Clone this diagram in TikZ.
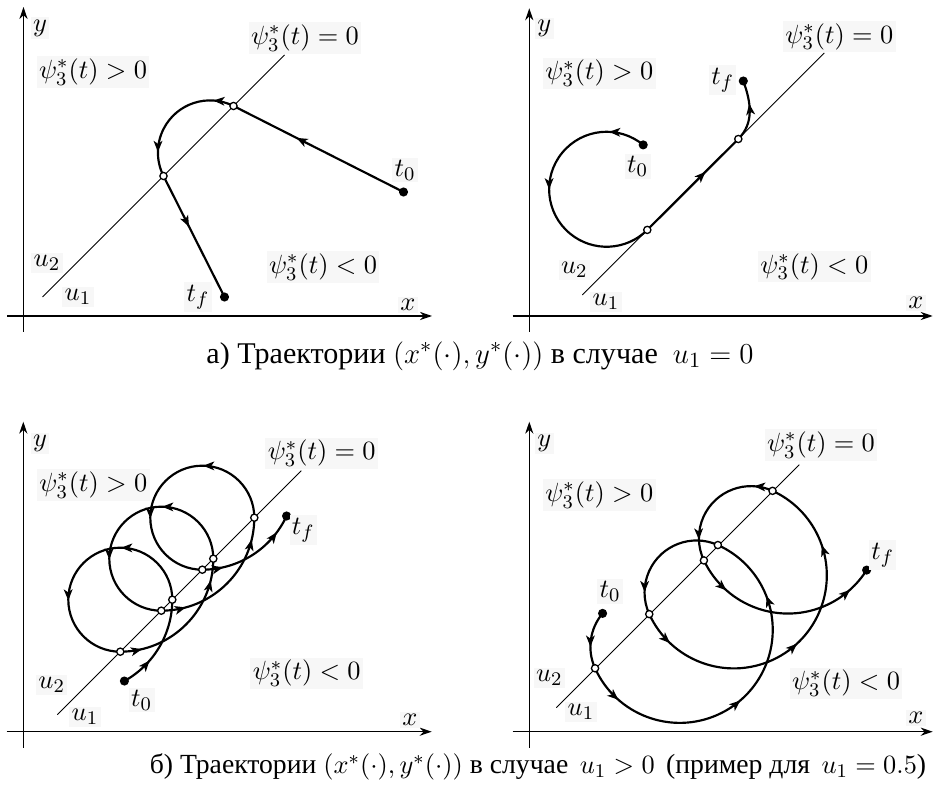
\documentclass[tikz,border=0pt]{standalone}
\usepackage{fontspec}
\newfontfamily\capfont{Liberation Serif}
\usepackage{tikz}
\usetikzlibrary{arrows.meta, decorations.markings}
\tikzset{
  axisarr/.style={line width=0.5pt, -{Stealth[length=5pt, width=3.4pt]}},
  swline/.style={line width=0.35pt},
  traj/.style={line width=0.9pt},
  arrat/.style={postaction={decorate, decoration={markings,
      mark=at position #1 with {\arrow{Stealth[length=4.6pt, width=3.6pt, inset=1.2pt]}}}}},
  enddot/.style={circle, fill=black, inner sep=0pt, minimum size=3.8pt},
  swpt/.style={circle, draw=black, fill=white, line width=0.55pt,
               inner sep=0pt, minimum size=3pt},
  lbl/.style={inner sep=1pt, fill=black!3, font=\fontsize{11}{13}\selectfont},
  captext/.style={font=\capfont\fontsize{12.5}{14}\selectfont},
  captextb/.style={font=\capfont\fontsize{11.5}{13}\selectfont},
}
\newcommand{\capmath}[1]{{\fontsize{11}{13}\selectfont$#1$}}

\begin{document}
\begin{tikzpicture}[x=0.0146cm, y=0.0146cm]
  \useasboundingbox (0,0) rectangle (933,791);

  % ---- top left: u1 = 0, panel 1
  \begin{scope}[shift={(23.5,475)}]
    % axes
    \draw[axisarr] (-16.5,0) -- (408.5,0);
    \draw[axisarr] (0,-16) -- (0,309);
    \node[lbl] (x1) at (384.5,11) {$x$};
    \node[lbl] (y1) at (16.5,288) {$y$};
    % switching line
    \draw[swline] (19,19) -- (261,261);
    \node[lbl] (zero1) at (281.5,278) {$\psi_3^*(t)=0$};
    \node[lbl] (pos1) at (69.5,244) {$\psi_3^*(t)>0$};
    \node[lbl] (neg1) at (299.5,49) {$\psi_3^*(t)<0$};
    \node[lbl] (utwo1) at (23.5,53) {$u_2$};
    \node[lbl] (uone1) at (54.5,19) {$u_1$};
    % trajectory
    \coordinate (s1) at (380,124);
    \coordinate (a1) at (210,210);
    \coordinate (b1) at (140,140);
    \coordinate (f1) at (201,19);
    \draw[traj, arrat=0.63] (s1) -- (a1);
    \draw[traj, arrat=0.16, arrat=0.81] (a1)
      arc[start angle=63.2, end angle=206.8, radius=52.1];
    \draw[traj, arrat=0.42] (b1) -- (f1);
    \foreach \p in {a1,b1}
      \node[swpt] (m-\p) at (\p) {};
    \node[enddot] (d-s1) at (s1) {};
    \node[enddot] (d-f1) at (f1) {};
    \node[lbl] (t01) at (381.5,146) {$t_0$};
    \node[lbl] (tf1) at (174.5,19) {$t_f$};
  \end{scope}

  % ---- top right: u1 = 0, panel 2
  \begin{scope}[shift={(529.3,475)}]
    % axes
    \draw[axisarr] (-16.6,0) -- (403.4,0);
    \draw[axisarr] (0,-16) -- (0,307.7);
    \node[lbl] (x2) at (386.7,13) {$x$};
    \node[lbl] (y2) at (15,287.7) {$y$};
    % switching line
    \draw[swline] (53,21) -- (295,263);
    \node[lbl] (zero2) at (310,279.3) {$\psi_3^*(t)=0$};
    \node[lbl] (pos2) at (70,242.7) {$\psi_3^*(t)>0$};
    \node[lbl] (neg2) at (285,49.3) {$\psi_3^*(t)<0$};
    \node[lbl] (utwo2) at (45,46) {$u_2$};
    \node[lbl] (uone2) at (76.7,14.3) {$u_1$};
    % trajectory
    \coordinate (s2) at (113.9,171.1);
    \coordinate (c2) at (209,177);
    \coordinate (f2) at (214,235);
    \draw[traj, arrat=0.14, arrat=0.49] (s2)
      arc[start angle=50.5, end angle=315, radius=57.5] coordinate (c1);
    \draw[traj, arrat=0.64] (c1) -- (c2);
    \draw[traj, arrat=0.62] (c2) to[out=45, in=-70] (f2);
    \foreach \p in {c1,c2}
      \node[swpt] (m-\p) at (\p) {};
    \node[enddot] (d-s2) at (s2) {};
    \node[enddot] (d-f2) at (f2) {};
    \node[lbl] (t02) at (108.4,149.3) {$t_0$};
    \node[lbl] (tf2) at (193.4,236) {$t_f$};
  \end{scope}

  % ---- bottom left: u1 > 0, panel 3
  \begin{scope}[shift={(23.3,59.3)}]
    % axes
    \draw[axisarr] (-16.6,0) -- (408.4,0);
    \draw[axisarr] (0,-16) -- (0,310);
    \node[lbl] (x3) at (386.7,11.7) {$x$};
    \node[lbl] (y3) at (16.7,288.4) {$y$};
    % switching line
    \draw[swline] (34,17) -- (278,261);
    \node[lbl] (zero3) at (298.4,278.4) {$\psi_3^*(t)=0$};
    \node[lbl] (pos3) at (70,246.7) {$\psi_3^*(t)>0$};
    \node[lbl] (neg3) at (283.4,58.4) {$\psi_3^*(t)<0$};
    \node[lbl] (utwo3) at (28.4,46.7) {$u_2$};
    \node[lbl] (uone3) at (61.7,15) {$u_1$};
    % trajectory: big arcs below the line, small circles above it
    \coordinate (s3) at (101.09,50.66);
    \draw[traj, arrat=0.33] (s3)
      arc[start angle=-61, end angle=0, radius=93] coordinate (p3);
    \draw[traj, arrat=0.33, arrat=0.67] (p3)
      arc[start angle=0, end angle=270, radius=52] coordinate (p1);
    \draw[traj, arrat=0.15, arrat=0.85] (p1)
      arc[start angle=-90, end angle=0, radius=93] coordinate (p5);
    \draw[traj, arrat=0.33, arrat=0.67] (p5)
      arc[start angle=0, end angle=270, radius=52] coordinate (p2);
    \draw[traj, arrat=0.17, arrat=0.85] (p2)
      arc[start angle=-90, end angle=0, radius=93] coordinate (p6);
    \draw[traj, arrat=0.33, arrat=0.67] (p6)
      arc[start angle=0, end angle=270, radius=52] coordinate (p4);
    \draw[traj, arrat=0.2, arrat=0.82] (p4)
      arc[start angle=-90, end angle=-25, radius=93] coordinate (f3);
    \foreach \p in {p1,p2,p3,p4,p5,p6}
      \node[swpt] (m-\p) at (\p) {};
    \node[enddot] (d-s3) at (s3) {};
    \node[enddot] (d-f3) at (f3) {};
    \node[lbl] (t03) at (118.4,31.7) {$t_0$};
    \node[lbl] (tf3) at (280,201.7) {$t_f$};
  \end{scope}

  % ---- bottom right: u1 = 0.5, panel 4
  \begin{scope}[shift={(529.3,59.3)}]
    % axes
    \draw[axisarr] (-16.6,0) -- (403.4,0);
    \draw[axisarr] (0,-16) -- (0,310);
    \node[lbl] (x4) at (386.7,13.4) {$x$};
    \node[lbl] (y4) at (15,288.4) {$y$};
    % switching line
    \draw[swline] (27,24) -- (270,267);
    \node[lbl] (zero4) at (291.7,286.7) {$\psi_3^*(t)=0$};
    \node[lbl] (pos4) at (70,236.7) {$\psi_3^*(t)>0$};
    \node[lbl] (neg4) at (316.7,48.4) {$\psi_3^*(t)<0$};
    \node[lbl] (utwo4) at (20,53.4) {$u_2$};
    \node[lbl] (uone4) at (51.7,20) {$u_1$};
    % trajectory
    \coordinate (s4) at (73.27,118.32);
    \draw[traj, arrat=0.62] (s4)
      arc[start angle=140, end angle=204.4, radius=52] coordinate (q1);
    \draw[traj, arrat=0.11, arrat=0.48, arrat=0.8] (q1)
      arc[start angle=204.4, end angle=425.8, radius=93] coordinate (q4);
    \draw[traj, arrat=0.82] (q4)
      arc[start angle=65.8, end angle=204.6, radius=52] coordinate (q2);
    \draw[traj, arrat=0.1, arrat=0.49, arrat=0.79] (q2)
      arc[start angle=204.6, end angle=425.4, radius=93] coordinate (q5);
    \draw[traj, arrat=0.15, arrat=0.83] (q5)
      arc[start angle=65.4, end angle=205.4, radius=52] coordinate (q3);
    \draw[traj, arrat=0.19, arrat=0.87] (q3)
      arc[start angle=205.4, end angle=327.8, radius=93] coordinate (f4);
    \foreach \p in {q1,q2,q3,q4,q5}
      \node[swpt] (m-\p) at (\p) {};
    \node[enddot] (d-s4) at (s4) {};
    \node[enddot] (d-f4) at (f4) {};
    \node[lbl] (t04) at (80.7,140) {$t_0$};
    \node[lbl] (tf4) at (353.4,176.7) {$t_f$};
  \end{scope}

  % captions
  \node[captext] (capa) at (480,435)
    {а) Траектории $(x^*(\cdot),y^*(\cdot))$ в случае \ $u_1=0$};
  \node[captextb] (capb) at (538,24)
    {б) Траектории \capmath{(x^*(\cdot),y^*(\cdot))} в случае\, \capmath{u_1>0}\, (пример для\, \capmath{u_1=0.5})};
\end{tikzpicture}
\end{document}
